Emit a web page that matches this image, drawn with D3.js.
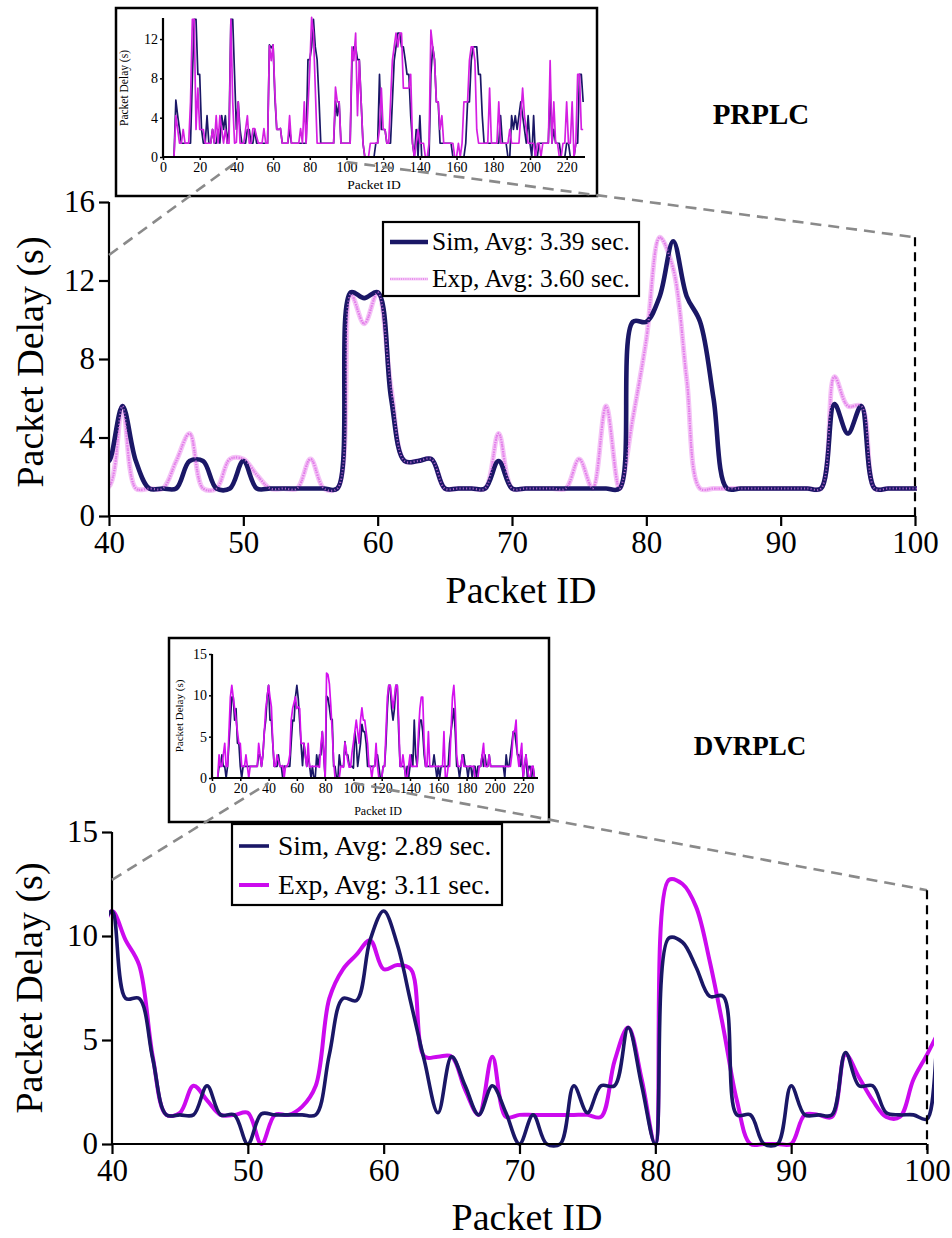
<!DOCTYPE html>
<html><head><meta charset="utf-8">
<script src="https://cdn.jsdelivr.net/npm/d3@7"></script>
<style>body{margin:0;background:#fff}svg{display:block}svg text{font-family:"Liberation Serif","Times New Roman",serif !important;fill:#000}</style>
</head><body><svg id="c" width="952" height="1238"></svg>
<script>
// ---------- DATA (packet id = array index 0..229) ----------
const packetIds = d3.range(0, 230);
const prSim = [
0,0,0,0,0,0,0,5.8,4.2,2.8,
1.4,1.4,1.4,1.4,1.4,1.4,8,14,14,8.4,
8.4,2.8,1.4,1.4,4.2,1.4,1.4,2.8,1.4,1.4,
2.8,1.4,4.2,2.8,4.2,1.4,2.8,14,14,8.4,
2.8,5.6,2.8,1.4,1.4,1.4,2.8,2.8,1.4,1.4,
2.8,1.4,1.4,1.4,1.4,1.4,1.4,1.4,11.4,11.1,
11.4,6.0,2.8,2.8,2.9,1.4,1.4,1.4,1.4,2.8,
1.4,1.4,1.4,1.4,1.4,1.4,1.4,1.4,1.4,9.9,
9.9,11.2,14,11.2,9.9,6.0,1.4,1.4,1.4,1.4,
1.4,1.4,1.4,1.4,5.7,4.2,5.6,1.4,1.4,1.4,
1.4,1.4,1.4,9.9,11.2,11.2,9.9,9.9,5.6,1.4,
0,0,0,0,0,0,1.4,1.4,8.4,2.8,
2.8,2.8,1.4,1.4,1.4,5.6,9.8,11.2,12.6,12.6,
11.2,11.2,9.9,8.4,8.4,4.2,1.4,0,2.8,0,
4.2,0,0,0,0,0,8.4,11.2,9.9,5.6,
5.6,1.4,1.4,1.4,1.4,1.4,1.4,1.4,0,0,
0,0,0,0,0,1.4,5.6,5.6,9.8,11.2,
11.2,11.2,8.4,8.4,4.2,1.4,1.4,1.4,1.4,1.4,
1.4,1.4,1.4,1.4,4.2,1.4,1.4,1.4,0,0,
4.2,2.8,4.2,2.8,4.2,5.6,4.2,2.8,1.4,4.2,
1.4,0,4.2,0,0,1.4,1.4,1.4,1.4,1.4,
1.4,7.0,1.4,2.8,1.4,1.4,1.4,0,0,0,
1.4,1.4,0,0,0,1.4,1.4,8.4,8.4,5.6];
const prExp = [
0,0,0,0,0,0,0,4.2,2.8,1.4,
1.4,2.8,1.4,1.4,1.4,5.6,14,14,2.8,7.0,
2.8,2.8,2.8,1.4,1.4,1.4,1.4,2.8,1.4,4.2,
1.4,4.2,2.8,1.4,2.8,1.4,1.4,14,5.6,1.4,
1.5,5.6,1.4,1.4,1.4,2.8,4.2,1.4,1.4,2.9,
2.9,2.1,1.4,1.4,1.4,2.9,1.4,1.4,11.3,9.8,
11.4,6.5,2.8,2.8,2.9,1.4,1.4,1.4,1.4,4.2,
1.4,1.4,1.4,1.4,1.4,2.9,1.4,5.6,1.4,5.0,
9.0,14.2,12.6,7.0,1.4,1.4,1.4,1.4,1.4,1.4,
1.4,1.4,1.4,1.4,7.1,5.6,5.6,1.4,1.4,1.4,
1.4,1.4,1.4,11.2,9.8,12.6,4.2,9.8,5.6,1.4,
0,0,0,1.4,1.4,1.4,1.4,1.4,2.8,7.0,
2.8,2.8,1.4,1.4,5.6,9.8,11.2,12.6,11.2,12.6,
12.6,7.0,7.0,7.0,7.0,8.4,1.4,0,1.4,2.8,
1.4,1.4,1.4,0,0,1.4,12.9,11.2,9.8,5.6,
5.6,2.8,4.2,1.4,1.4,1.4,1.4,1.4,1.4,0,
0,1.4,0,1.4,5.6,5.6,5.6,9.8,11.2,11.2,
9.8,2.8,1.4,1.4,1.4,1.4,1.4,1.4,7.0,1.4,
1.4,1.4,1.4,5.6,1.4,1.4,1.4,1.4,1.4,2.8,
1.4,1.4,1.4,1.4,1.4,4.2,7.0,4.2,2.8,1.4,
1.4,1.4,1.4,0,1.4,1.4,0,1.4,1.4,1.4,
1.4,9.8,1.4,5.6,1.4,1.4,0,0,1.4,1.4,
5.6,1.4,1.4,5.6,0,1.4,8.4,8.4,2.8,2.8];
const dvSim = [
0,0,0,0,0,1.4,1.4,2.8,1.4,1.4,
0,1.4,4.2,7.0,9.8,9.8,7.0,8.4,4.2,4.2,
1.4,0,1.4,1.4,1.4,1.4,1.4,1.4,1.4,1.4,
1.4,1.4,1.4,2.8,2.8,1.4,2.8,5.6,7.0,9.8,
11.2,7.0,7.0,4.1,1.4,1.4,1.4,2.8,1.4,1.4,
0,1.45,1.4,1.4,1.4,1.4,4.3,7.0,6.9,9.8,
11.2,9.6,6.8,4.0,1.5,4.2,2.8,1.4,2.8,1.5,
0,1.4,0,0,2.8,1.5,2.8,2.8,5.6,2.8,
0,9.9,9.7,8.5,7.1,7.1,1.4,1.4,0,0,
2.8,1.4,1.4,1.4,4.4,2.8,2.8,1.5,1.4,1.4,
1.2,5.6,4.2,1.4,2.8,4.2,6.5,5.6,5.6,4.2,
1.4,1.4,1.4,1.4,1.4,1.4,2.8,2.8,1.4,0,
0,1.4,1.4,4.2,8.4,11.2,11.2,8.4,7.0,8.4,
11.2,11.2,5.6,1.4,1.4,1.4,1.4,0,1.4,0,
1.4,2.8,1.4,7.0,2.8,1.4,4.2,7.0,7.0,5.6,
2.8,1.4,1.4,1.4,1.4,1.4,1.4,2.8,1.4,0,
1.4,0,1.4,1.4,1.4,1.4,1.4,1.4,4.2,5.6,
7.0,8.4,5.6,1.4,1.4,0,1.4,2.8,2.8,1.4,
1.4,0,1.4,1.4,0,1.4,1.4,0,1.4,1.4,
1.4,2.8,1.4,2.8,1.4,1.4,2.8,1.4,1.4,1.4,
1.4,1.4,1.4,1.4,1.4,1.4,1.4,0,2.8,1.4,
1.4,2.8,4.2,5.6,5.6,4.2,2.8,2.8,1.4,2.8,
0,1.4,2.8,0,1.4,1.4,0,1.4,0,0];
const dvExp = [
0,0,0,0,0,2.8,1.4,1.4,2.8,4.2,
1.4,1.4,5.6,9.8,11.2,9.8,8.4,7.0,5.6,4.2,
4.2,1.4,1.4,1.4,2.8,1.4,0,1.4,1.4,1.4,
1.4,1.4,1.4,4.2,2.8,1.4,2.8,5.6,8.4,9.8,
11.2,9.8,8.6,4.2,1.4,1.5,2.8,2.1,1.4,1.4,
1.5,0,1.4,1.4,1.8,2.8,7.0,8.4,9.1,9.8,
8.4,8.6,8.4,4.2,4.2,4.2,2.6,1.4,4.2,1.3,
1.4,1.4,1.4,1.4,1.4,1.4,1.3,4.0,5.6,3.1,
0,12.7,12.5,11.4,8.8,5.6,2.1,0,0,0,
0,1.4,1.4,1.3,4.3,3.2,2.1,1.3,1.3,3.1,
4.3,5.6,7.0,5.6,4.2,7.0,8.5,7.0,7.0,5.6,
4.2,1.4,1.4,0,1.4,1.4,4.2,1.4,0,0,
0,1.4,1.4,5.6,9.8,11.2,11.2,9.8,8.4,9.8,
11.2,11.2,7.0,1.4,1.4,2.8,1.4,0,0,1.4,
2.8,1.4,1.4,1.4,1.4,1.4,5.6,8.4,9.8,9.8,
4.2,1.4,1.4,5.6,1.4,1.4,1.4,1.4,1.4,1.4,
1.4,1.4,1.4,1.4,5.6,0,0,1.4,1.4,5.6,
9.8,11.2,8.4,2.8,1.4,1.4,1.4,2.8,1.4,1.4,
1.4,1.4,1.4,1.4,1.4,1.4,0,0,0,1.4,
1.4,2.8,4.2,1.4,1.4,1.4,2.8,1.4,1.4,1.4,
1.4,1.4,1.4,1.4,1.4,1.4,1.4,1.4,1.4,1.4,
1.4,1.4,2.8,5.6,5.6,7.0,2.8,1.4,2.8,4.2,
0,1.4,2.8,1.4,0,0,1.4,1.4,0,0];
const mainTicksX = [40,50,60,70,80,90,100];
const prTicksY = [0,4,8,12,16];
const dvTicksY = [0,5,10,15];
const insetTicksX = [0,20,40,60,80,100,120,140,160,180,200,220];
const prInsetTicksY = [0,4,8,12];
const dvInsetTicksY = [0,5,10,15];
const prLegend = ["Sim, Avg: 3.39 sec.", "Exp, Avg: 3.60 sec."];
const dvLegend = ["Sim, Avg: 2.89 sec.", "Exp, Avg: 3.11 sec."];
const titles = ["PRPLC", "DVRPLC"];

// ---------- DRAW ----------
const FONT = '"Liberation Serif","Times New Roman",serif';
const svg = d3.select("#c");
const NAVY = "#1a1766";
const pts = (ys) => packetIds.map(i => ({x: i, y: ys[i]}));

function drawPath(g, data, line, strokes, clip) {
  strokes.forEach(s => {
    g.append("path").datum(data).attr("clip-path", clip ? `url(#${clip})` : null)
      .attr("d", line).attr("fill", "none").attr("stroke", s.c)
      .attr("stroke-width", s.w).attr("stroke-dasharray", s.dash || null)
      .attr("stroke-linejoin", "round").attr("opacity", s.op || 1);
  });
}

function styleAxis(a, fs, dw, tw) {
  a.attr("font-family", FONT);
  a.select(".domain").attr("stroke", "#000").attr("stroke-width", dw);
  a.selectAll(".tick line").attr("stroke", "#000").attr("stroke-width", tw);
  a.selectAll("text").attr("font-size", fs).style("font-family", FONT).attr("fill", "#000");
}

function mainPanel(o) {
  const g = svg.append("g");
  const x = d3.scaleLinear().domain([40, 100]).range(o.xr);
  const y = d3.scaleLinear().domain(o.yd).range(o.yr);
  const cid = "clip" + o.id;
  svg.append("clipPath").attr("id", cid).append("rect")
    .attr("x", o.clip[0]).attr("y", 0).attr("width", o.clip[1] - o.clip[0]).attr("height", 1238);
  const line = d3.line().x(d => x(d.x)).y(d => y(d.y)).curve(d3.curveCatmullRom.alpha(0.5));
  const sub = a => pts(a).filter(d => d.x >= 38 && d.x <= 102);
  drawPath(g, sub(o.exp), line, o.expStrokes, cid);
  drawPath(g, sub(o.sim), line, o.simStrokes, cid);
  if (o.expOver) drawPath(g, sub(o.exp), line, o.expOver, cid);
  const ax = g.append("g").attr("transform", `translate(0,${o.yr[0]})`)
    .call(d3.axisBottom(x).tickValues(mainTicksX).tickSize(10).tickPadding(5).tickFormat(d3.format("d")));
  const ay = g.append("g").attr("transform", `translate(${o.xr[0]},0)`)
    .call(d3.axisLeft(y).tickValues(o.ticksY).tickSize(10).tickPadding(4).tickFormat(d3.format("d")));
  styleAxis(ax, 31, 2.2, 2.2); styleAxis(ay, 31, 2.2, 2.2);
  ax.select(".domain").attr("d", `M${o.xr[0]},0H${o.xr[1]}`);
  ay.select(".domain").attr("d", `M0,${o.yr[1]}V${o.yr[0]}`);
  g.append("text").attr("x", o.xlab[0]).attr("y", o.xlab[1]).attr("text-anchor", "middle")
    .attr("font-size", 38).style("font-family", FONT).text("Packet ID");
  g.append("text").attr("transform", `translate(${o.ylab[0]},${o.ylab[1]}) rotate(-90)`)
    .attr("text-anchor", "middle").attr("font-size", 38).style("font-family", FONT).text("Packet Delay (s)");
  return {x, y};
}

function insetPanel(o) {
  const g = svg.append("g");
  g.append("rect").attr("x", o.box[0]).attr("y", o.box[1]).attr("width", o.box[2] - o.box[0])
    .attr("height", o.box[3] - o.box[1]).attr("fill", "#fff").attr("stroke", "#000").attr("stroke-width", 2.5);
  const x = d3.scaleLinear().domain(o.xd).range(o.xr);
  const y = d3.scaleLinear().domain(o.yd).range(o.yr);
  const line = d3.line().x(d => x(d.x)).y(d => y(d.y));
  drawPath(g, pts(o.sim), line, [{c: NAVY, w: 1.7}]);
  drawPath(g, pts(o.exp), line, [{c: o.expColor, w: 1.7}]);
  const ax = g.append("g").attr("transform", `translate(0,${o.yr[0]})`)
    .call(d3.axisBottom(x).tickValues(insetTicksX).tickSize(3).tickPadding(2).tickFormat(d3.format("d")));
  const ay = g.append("g").attr("transform", `translate(${o.xr[0]},0)`)
    .call(d3.axisLeft(y).tickValues(o.ticksY).tickSize(3).tickPadding(2).tickFormat(d3.format("d")));
  styleAxis(ax, 14, 2.2, 1.5); styleAxis(ay, 14, 2.2, 1.5);
  ax.select(".domain").attr("d", `M${o.xr[0]},0H${o.xr[1]}`);
  ay.select(".domain").attr("d", `M0,${o.ytop}V${o.yr[0]}`);
  g.append("text").attr("x", o.xlab[0]).attr("y", o.xlab[1]).attr("text-anchor", "middle")
    .attr("font-size", o.xfs).style("font-family", FONT).text("Packet ID");
  g.append("text").attr("transform", `translate(${o.ylab[0]},${o.ylab[1]}) rotate(-90)`)
    .attr("text-anchor", "middle").attr("font-size", o.yfs).style("font-family", FONT).text("Packet Delay (s)");
  return {x, y};
}

function legend(o, labels) {
  const g = svg.append("g");
  g.append("rect").attr("x", o.box[0]).attr("y", o.box[1]).attr("width", o.box[2] - o.box[0])
    .attr("height", o.box[3] - o.box[1]).attr("fill", "#fff").attr("stroke", "#000").attr("stroke-width", 2.2);
  [o.sim, o.exp].forEach((strokes, i) => {
    const yy = o.rows[i];
    strokes.forEach(s => g.append("line").attr("x1", o.lx[0]).attr("x2", o.lx[1]).attr("y1", yy).attr("y2", yy)
      .attr("stroke", s.c).attr("stroke-width", s.w).attr("stroke-dasharray", s.dash || null));
    g.append("text").attr("x", o.tx).attr("y", yy + o.fs * 0.33).attr("font-size", o.fs)
      .style("font-family", FONT).text(labels[i]);
  });
}

function connectors(main, inset, c) {
  const g = svg.append("g");
  g.append("line").attr("x1", main.x(40)).attr("y1", main.y(c.left))
    .attr("x2", inset.x(40)).attr("y2", inset.y(0) + 5)
    .attr("stroke", "#8a8a8a").attr("stroke-width", 2.6).attr("stroke-dasharray", "11,7");
  g.append("line").attr("x1", inset.x(100)).attr("y1", inset.y(0) + 5)
    .attr("x2", main.x(100)).attr("y2", main.y(c.right))
    .attr("stroke", "#8a8a8a").attr("stroke-width", 2.6).attr("stroke-dasharray", "11,7");
  g.append("line").attr("x1", main.x(100)).attr("x2", main.x(100))
    .attr("y1", main.y(c.right)).attr("y2", main.y(0) + 6)
    .attr("stroke", "#000").attr("stroke-width", 2.2).attr("stroke-dasharray", "9,6");
}

// ---- PRPLC ----
const pinkMain = [{c: "#f4c4f6", w: 5}, {c: "#e27ae9", w: 2.2, dash: "1.1,1.3"}];
const pinkLegend = [{c: "#f6cdf7", w: 3}, {c: "#e27ae9", w: 1.6, dash: "1,1.2"}];
const m1 = mainPanel({id: 1, xr: [109, 915], yd: [0, 16], yr: [516, 202], clip: [109, 917],
  sim: prSim, exp: prExp, expStrokes: pinkMain, simStrokes: [{c: NAVY, w: 4.6}],
  expOver: [{c: "#e27ae9", w: 2, dash: "1.1,2.2", op: 0.75}],
  ticksY: prTicksY, xlab: [521, 603], ylab: [43, 362]});
const i1 = insetPanel({box: [116, 8, 597, 196], xd: [0, 230], xr: [163, 585], yd: [0, 14], yr: [157, 19.4], ytop: 18,
  sim: prSim, exp: prExp, expColor: "#d41fe2", ticksY: prInsetTicksY, xlab: [374, 189], ylab: [128, 88],
  xfs: 13.5, yfs: 11.5});
connectors(m1, i1, {left: 13.3, right: 14.2});
legend({box: [383, 222, 639, 296], rows: [242, 279], lx: [390, 428], tx: 432, fs: 25.5,
  sim: [{c: NAVY, w: 4.6}], exp: pinkLegend}, prLegend);
svg.append("text").attr("x", 761).attr("y", 124).attr("text-anchor", "middle").style("font-family", FONT)
  .attr("font-size", 29).attr("font-weight", "bold").text(titles[0]);

// ---- DVRPLC ----
const MAG = "#cc0aee";
const m2 = mainPanel({id: 2, xr: [112, 927], yd: [0, 15], yr: [1144, 832], clip: [109, 934],
  sim: dvSim, exp: dvExp, expStrokes: [{c: MAG, w: 4}], simStrokes: [{c: NAVY, w: 3.6}],
  ticksY: dvTicksY, xlab: [527, 1230], ylab: [42, 988]});
const i2 = insetPanel({box: [169, 638, 549, 822], xd: [0, 230.5], xr: [212, 538], yd: [0, 15], yr: [778, 654], ytop: 654,
  sim: dvSim, exp: dvExp, expColor: "#d411ee", ticksY: dvInsetTicksY, xlab: [378, 815], ylab: [183, 716],
  xfs: 12, yfs: 11});
connectors(m2, i2, {left: 12.7, right: 12.2});
legend({box: [232, 824, 502, 905], rows: [846, 885], lx: [239, 269], tx: 278, fs: 27.5,
  sim: [{c: NAVY, w: 3.6}], exp: [{c: MAG, w: 4}]}, dvLegend);
svg.append("text").attr("x", 750).attr("y", 755).attr("text-anchor", "middle").style("font-family", FONT)
  .attr("font-size", 27).attr("font-weight", "bold").text(titles[1]);
</script></body></html>
